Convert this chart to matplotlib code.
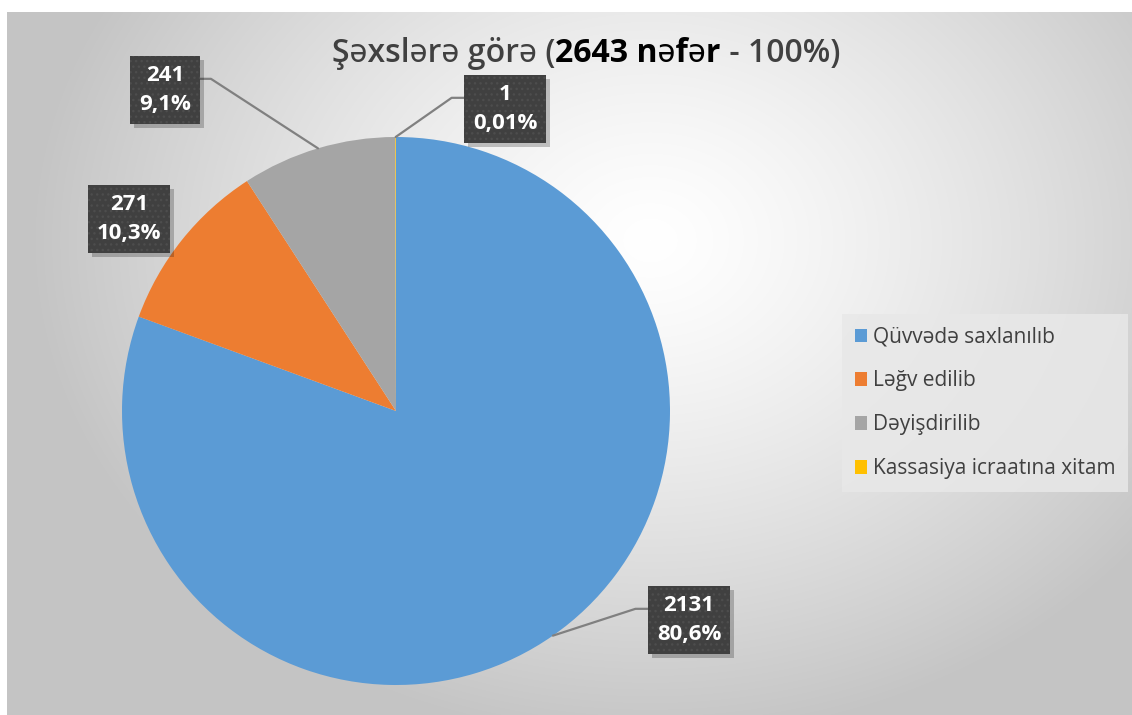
import numpy as np
import matplotlib
matplotlib.use("Agg")
import matplotlib.pyplot as plt
from matplotlib.patches import Patch
import matplotlib.patheffects as pe

# ---- data ----
categories = ["Qüvvədə saxlanılıb", "Ləğv edilib", "Dəyişdirilib", "Kassasiya icraatına xitam"]
values = [2131, 271, 241, 1]
percent_labels = ["80,6%", "10,3%", "9,1%", "0,01%"]
colors = ["#5B9BD5", "#ED7D31", "#A5A5A5", "#FFC000"]
title_parts = [("Şəxslərə görə (", 600, "#404040"),
               ("2643 nəfər", "bold", "#000000"),
               (" - 100%)", 600, "#404040")]

FONT = ["Open Sans", "Noto Sans", "DejaVu Sans"]
plt.rcParams["font.family"] = FONT

W, H = 1132, 715
fig = plt.figure(figsize=(W / 100, H / 100), dpi=100)
fig.patch.set_facecolor("white")

# ---- chart-area background (path gradient) ----
bx0, by0 = 7, 12
bg = fig.add_axes([bx0 / W, 0, 1 - bx0 / W, (H - by0) / H])
bg.set_axis_off()
gw, gh = W - bx0, H - by0
yy, xx = np.mgrid[0:gh, 0:gw]
cx, cy = 650 - bx0, 240 - by0
d = np.sqrt(((xx - cx) / 620.0) ** 2 + ((yy - cy) / 500.0) ** 2)
d = np.clip(d, 0, 1) ** 1.3
lo, hi = 1.0, 0.77
img = hi + (lo - hi) * (1 - d)
bg.imshow(np.dstack([img, img, img]), aspect="auto", extent=(0, gw, gh, 0), zorder=0)
bg.set_xlim(0, gw)
bg.set_ylim(gh, 0)

# ---- pie ----
pcx, pcy, R = 396, 411, 274
ax = fig.add_axes([(pcx - R) / W, (H - pcy - R) / H, 2 * R / W, 2 * R / H])
ax.set_facecolor("none")
ax.set_axis_off()
wedges, _ = ax.pie(values, colors=colors, startangle=90, counterclock=False,
                   radius=1.0, wedgeprops=dict(linewidth=0))
ax.set_xlim(-1, 1)
ax.set_ylim(-1, 1)

def px2data(px, py):
    return ((px - pcx) / R, (pcy - py) / R)


class NoHatchShadow(pe.SimplePatchShadow):
    def draw_path(self, renderer, gc, tpath, affine, rgbFace):
        gc0 = renderer.new_gc()
        gc0.copy_properties(gc)
        gc0.set_hatch(None)
        super().draw_path(renderer, gc0, tpath, affine, rgbFace)
        gc0.restore()


label_pos = [(689, 620), (129, 219), (165, 90), (505, 109)]
leaders = [
    dict(relpos=(0, 0.72), angleA=180, angleB=18),
    None,
    dict(relpos=(1, 0.72), angleA=0, angleB=-33),
    dict(relpos=(0, 0.72), angleA=180, angleB=35),
]

for i, w in enumerate(wedges):
    mid = np.deg2rad((w.theta1 + w.theta2) / 2)
    xy = (np.cos(mid), np.sin(mid))
    txt = f"{values[i]}\n{percent_labels[i]}"
    tx, ty = px2data(*label_pos[i])
    arrow = None
    if leaders[i] is not None:
        L = leaders[i]
        arrow = dict(arrowstyle="-", color="#808080", lw=1.6, shrinkA=0, shrinkB=0,
                     relpos=L["relpos"],
                     connectionstyle=f"angle,angleA={L['angleA']},angleB={L['angleB']},rad=0")
    ann = ax.annotate(txt, xy=xy, xytext=(tx, ty), textcoords="data",
                      ha="center", va="center", fontsize=16, fontweight="bold",
                      color="white", linespacing=1.55,
                      bbox=dict(boxstyle="square,pad=0.4", facecolor="#404040",
                                edgecolor="#4d4d4d", linewidth=0, hatch="..."),
                      arrowprops=arrow, zorder=5, annotation_clip=False)
    ann.get_bbox_patch().set_path_effects([
        NoHatchShadow(offset=(3, -3), shadow_rgbFace="black", alpha=0.22),
        pe.Normal()])

# ---- legend ----
handles = [Patch(facecolor=c, edgecolor="none") for c in colors]
leg = fig.legend(handles, categories, loc="upper left",
                 bbox_to_anchor=(842 / W, 1 - 314 / H), bbox_transform=fig.transFigure,
                 fontsize=15, frameon=True, fancybox=False, borderpad=0.6,
                 labelspacing=1.1, handlelength=0.6, handleheight=0.6,
                 handletextpad=0.3, borderaxespad=0)
leg.get_frame().set_facecolor("#e8e8e8")
leg.get_frame().set_alpha(0.85)
leg.get_frame().set_linewidth(0)
for t in leg.get_texts():
    t.set_color("#404040")

# ---- title (mixed weights) ----
fig.canvas.draw()
renderer = fig.canvas.get_renderer()
title_y = 1 - 53 / H
pieces = []
for s, wt, col in title_parts:
    t = fig.text(0, title_y, s, fontsize=23, fontweight=wt, color=col,
                 ha="left", va="center")
    pieces.append(t)
widths = [p.get_window_extent(renderer).width for p in pieces]
total = sum(widths)
x = 586 - total / 2
for p, wdt in zip(pieces, widths):
    p.set_x(x / W)
    x += wdt

fig.savefig("out.png", dpi=100, facecolor="white")
